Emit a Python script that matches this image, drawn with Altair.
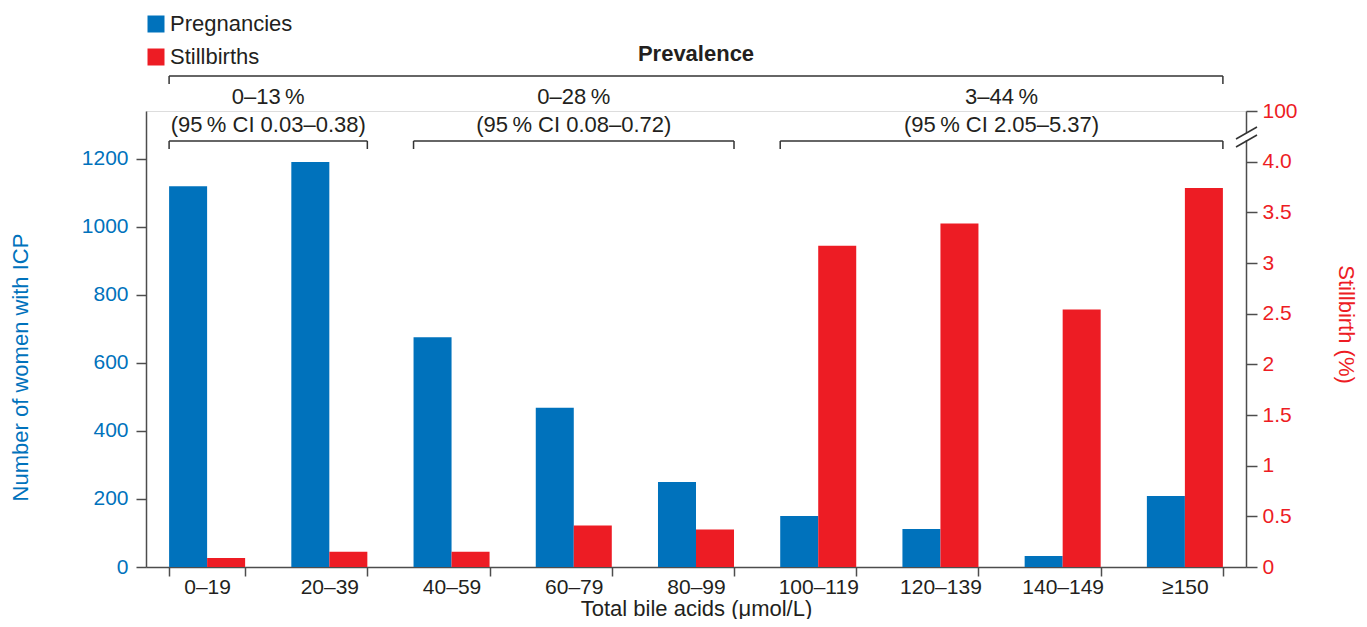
import altair as alt
import pandas as pd

# ---------------- data ----------------
categories = ["0–19", "20–39", "40–59", "60–79", "80–99",
              "100–119", "120–139", "140–149", "≥150"]
pregnancies = [1120, 1191, 676, 468, 250, 150, 112, 32, 209]
stillbirth_pct = [0.09, 0.15, 0.15, 0.41, 0.37, 3.17, 3.39, 2.54, 3.74]
series_names = ["Pregnancies", "Stillbirths"]

left_ticks = [0, 200, 400, 600, 800, 1000, 1200]
right_ticks = [0, 0.5, 1, 1.5, 2, 2.5, 3, 3.5, 4, 4.5]  # 4.5 is shown as 100 (axis break)

group_start = ["0–19", "40–59", "100–119"]
group_end = ["20–39", "80–99", "≥150"]
group_rate = ["0–13\u2009%", "0–28\u2009%", "3–44\u2009%"]
group_ci = ["(95\u2009% CI 0.03–0.38)", "(95\u2009% CI 0.08–0.72)", "(95\u2009% CI 2.05–5.37)"]
header_text = "Prevalence"

# ---------------- style ----------------
BLUE = "#0072BC"
RED = "#ED1C24"
DARK = "#231F20"
AX = "#4D4D4D"
FONT = "Liberation Sans"
W, H = 1100, 456
P_IN = 0.378
P_OUT = P_IN / 2

df = pd.DataFrame({
    "cat": categories * 2,
    "series": [series_names[0]] * len(categories) + [series_names[1]] * len(categories),
    "value": pregnancies + stillbirth_pct,
})

n = len(categories)
ann = pd.DataFrame({
    "x1": [categories.index(s) + P_OUT for s in group_start],
    "x2": [categories.index(e) + 1 - P_OUT for e in group_end],
    "rate": group_rate,
    "ci": group_ci,
})
ann["xm"] = (ann["x1"] + ann["x2"]) / 2
top = pd.DataFrame({"x1": [P_OUT], "x2": [n - P_OUT], "label": [header_text]})
top["xm"] = (top["x1"] + top["x2"]) / 2

xq = alt.Scale(domain=[0, n], nice=False, zero=False)

x_scale = alt.Scale(domain=categories, paddingInner=P_IN, paddingOuter=P_OUT)
xoff = alt.XOffset("series:N", scale=alt.Scale(domain=series_names))
color = alt.Color(
    "series:N",
    scale=alt.Scale(domain=series_names, range=[BLUE, RED]),
    legend=alt.Legend(
        title=None, orient="none", legendX=-1, legendY=-98,
        symbolType="square", symbolSize=289, symbolStrokeWidth=0,
        labelFontSize=22, labelFont=FONT, labelColor=DARK,
        rowPadding=11, labelOffset=3, padding=0, direction="vertical",
    ),
)

blue = alt.Chart(df).transform_filter(alt.datum.series == series_names[0]).mark_bar().encode(
    x=alt.X("cat:N", sort=categories, scale=x_scale,
            axis=alt.Axis(title="Total bile acids (μmol/L)", tickBand="extent", labelAngle=0,
                          labelFontSize=21, titleFontSize=22, labelFont=FONT, titleFont=FONT,
                          labelColor=DARK, titleColor=DARK, titleFontWeight="normal",
                          tickSize=9, labelPadding=0, domainColor=AX, tickColor=AX,
                          domainWidth=1.5, tickWidth=1.5, titleY=48, titleBaseline="alphabetic")),
    xOffset=xoff,
    y=alt.Y("value:Q", scale=alt.Scale(domain=[0, 1341], nice=False, zero=True),
            axis=alt.Axis(orient="left", values=left_ticks, format="d",
                          title="Number of women with ICP",
                          titleColor=BLUE, labelColor=BLUE, labelFontSize=21, titleFontSize=22,
                          labelFont=FONT, titleFont=FONT, titleFontWeight="normal",
                          tickSize=10, labelPadding=8, domainColor=AX, tickColor=AX,
                          domainWidth=1.5, tickWidth=1.5, grid=False,
                          titleX=-126, titleY=256, titleAngle=-90, titleAlign="center",
                          titleBaseline="middle", labelOverlap=False)),
    color=color,
)

red = alt.Chart(df).transform_filter(alt.datum.series == series_names[1]).mark_bar().encode(
    x=alt.X("cat:N", sort=categories, scale=x_scale, axis=None),
    xOffset=xoff,
    y=alt.Y("value:Q", scale=alt.Scale(domain=[0, 4.5], nice=False, zero=True),
            axis=alt.Axis(orient="right", values=right_ticks, title="Stillbirth (%)",
                          labelExpr="datum.value == 4.5 ? '100' : (datum.value == 4 ? '4.0' : format(datum.value, '~g'))",
                          titleColor=RED, labelColor=RED, labelFontSize=21, titleFontSize=22,
                          labelFont=FONT, titleFont=FONT, titleFontWeight="normal",
                          tickSize=11, labelPadding=5, domainColor=AX, tickColor=AX,
                          domainWidth=1.5, tickWidth=1.5, grid=False,
                          titleX=99, titleY=213, titleAngle=90, titleAlign="center",
                          titleBaseline="middle", labelOverlap=False)),
    color=color,
)

LINE = dict(color="#333333", strokeWidth=1.5)

# lower brackets
lb_h = alt.Chart(ann).mark_rule(**LINE).encode(
    x=alt.X("x1:Q", scale=xq, axis=None), x2="x2:Q", y=alt.value(30))
lb_l = alt.Chart(ann).mark_rule(**LINE).encode(
    x=alt.X("x1:Q", scale=xq, axis=None), y=alt.value(30), y2=alt.value(38))
lb_r = alt.Chart(ann).mark_rule(**LINE).encode(
    x=alt.X("x2:Q", scale=xq, axis=None), y=alt.value(30), y2=alt.value(38))
rate_txt = alt.Chart(ann).mark_text(fontSize=22, font=FONT, color=DARK, baseline="middle").encode(
    x=alt.X("xm:Q", scale=xq, axis=None), y=alt.value(-14), text="rate:N")
ci_txt = alt.Chart(ann).mark_text(fontSize=22, font=FONT, color=DARK, baseline="middle").encode(
    x=alt.X("xm:Q", scale=xq, axis=None), y=alt.value(14), text="ci:N")

# top bracket
tb_h = alt.Chart(top).mark_rule(**LINE).encode(
    x=alt.X("x1:Q", scale=xq, axis=None), x2="x2:Q", y=alt.value(-35))
tb_l = alt.Chart(top).mark_rule(**LINE).encode(
    x=alt.X("x1:Q", scale=xq, axis=None), y=alt.value(-35), y2=alt.value(-27))
tb_r = alt.Chart(top).mark_rule(**LINE).encode(
    x=alt.X("x2:Q", scale=xq, axis=None), y=alt.value(-35), y2=alt.value(-27))
head_txt = alt.Chart(top).mark_text(fontSize=22, font=FONT, color=DARK, fontWeight="bold",
                                    baseline="middle").encode(
    x=alt.X("xm:Q", scale=xq, axis=None), y=alt.value(-57), text="label:N")

# axis break decoration on the right axis
gap = alt.Chart(pd.DataFrame({"k": [0]})).mark_rect(color="white").encode(
    x=alt.value(W - 4), x2=alt.value(W + 5), y=alt.value(22), y2=alt.value(29))
slash1 = alt.Chart(pd.DataFrame({"k": [0]})).mark_rule(**LINE).encode(
    x=alt.value(W - 10), y=alt.value(28), x2=alt.value(W + 11), y2=alt.value(16))
slash2 = alt.Chart(pd.DataFrame({"k": [0]})).mark_rule(**LINE).encode(
    x=alt.value(W - 10), y=alt.value(36), x2=alt.value(W + 11), y2=alt.value(24))

chart = alt.layer(
    blue, red, lb_h, lb_l, lb_r, rate_txt, ci_txt, tb_h, tb_l, tb_r, head_txt, gap, slash1, slash2
).resolve_scale(
    y="independent", x="independent"
).properties(
    width=W, height=H,
    autosize=alt.AutoSizeParams(type="none"),
    padding={"left": 138, "top": 103, "right": 113, "bottom": 52},
).configure_view(stroke=None).configure(background="white")

chart.save("out.html", embed_options={"renderer": "svg", "actions": False})
